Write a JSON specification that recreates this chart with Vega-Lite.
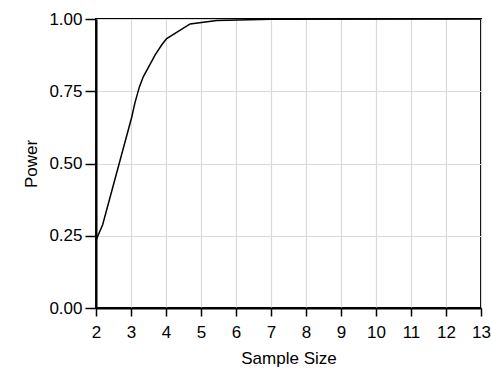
{
  "$schema": "https://vega.github.io/schema/vega-lite/v6.json",
  "width": 385,
  "height": 289,
  "autosize": "none",
  "padding": {"left": 96, "top": 19, "right": 10, "bottom": 71},
  "background": "white",
  "config": {
    "view": {"stroke": "black", "strokeWidth": 2},
    "font": "Liberation Sans",
    "axis": {
      "labelFont": "Liberation Sans",
      "titleFont": "Liberation Sans",
      "labelFontSize": 17,
      "titleFontSize": 17,
      "labelColor": "black",
      "titleColor": "black",
      "titleFontWeight": "normal",
      "domainColor": "black",
      "domainWidth": 2,
      "tickColor": "black",
      "tickWidth": 1.5,
      "gridColor": "#d9d9d9",
      "gridWidth": 1.2,
      "gridOpacity": 1
    }
  },
  "data": {
    "values": [
      {"n": 2.0, "power": 0.235},
      {"n": 2.19, "power": 0.288},
      {"n": 3.02, "power": 0.66},
      {"n": 3.11, "power": 0.709},
      {"n": 3.24, "power": 0.765},
      {"n": 3.35, "power": 0.80},
      {"n": 3.54, "power": 0.842},
      {"n": 3.69, "power": 0.876},
      {"n": 3.88, "power": 0.911},
      {"n": 4.02, "power": 0.932},
      {"n": 4.35, "power": 0.957},
      {"n": 4.69, "power": 0.983},
      {"n": 5.45, "power": 0.995},
      {"n": 7.0, "power": 0.999},
      {"n": 13.0, "power": 1.0}
    ]
  },
  "mark": {"type": "line", "color": "black", "strokeWidth": 1.5, "clip": true},
  "encoding": {
    "x": {
      "field": "n",
      "type": "quantitative",
      "title": "Sample Size",
      "scale": {"domain": [2, 13], "nice": false, "zero": false},
      "axis": {
        "values": [2, 3, 4, 5, 6, 7, 8, 9, 10, 11, 12, 13],
        "tickSize": 8,
        "labelPadding": 8,
        "titlePadding": 10,
        "labelFlush": false
      }
    },
    "y": {
      "field": "power",
      "type": "quantitative",
      "title": "Power",
      "scale": {"domain": [0, 1], "nice": false},
      "axis": {
        "values": [0, 0.25, 0.5, 0.75, 1],
        "format": ".2f",
        "tickSize": 11,
        "labelPadding": 3,
        "titlePadding": 8
      }
    }
  }
}
